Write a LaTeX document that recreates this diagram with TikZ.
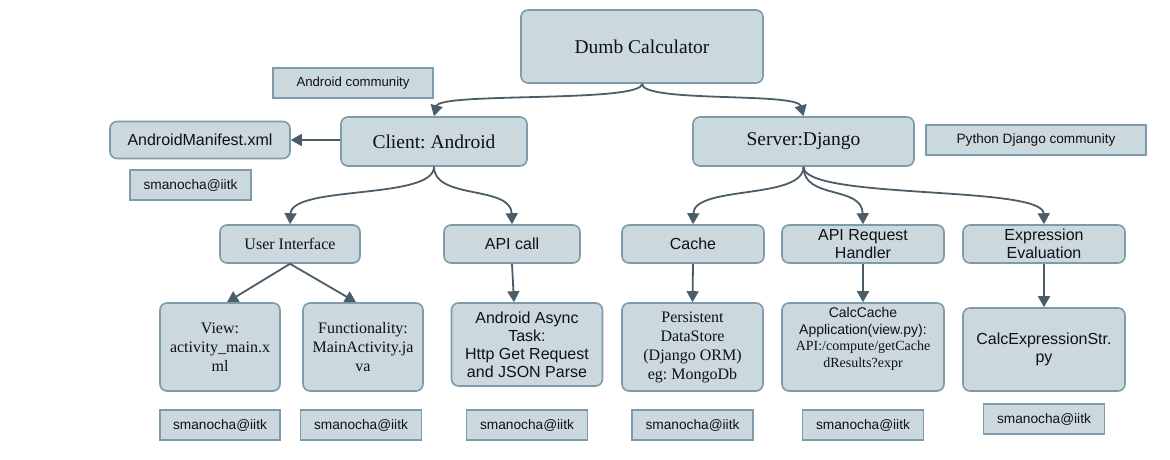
\documentclass[tikz,border=0pt]{standalone}
\usepackage{fontspec}
\setmainfont{Liberation Serif}
\newfontfamily\sansf{Liberation Sans}
\usetikzlibrary{arrows.meta}
\definecolor{boxfill}{HTML}{CBD8DE}
\definecolor{boxline}{HTML}{7D9BAA}
\definecolor{arr}{HTML}{4A5D68}
\definecolor{txt}{HTML}{111111}
\frenchspacing
\begin{document}
\begin{tikzpicture}[x=1pt,y=-1pt,
  base/.style={draw=boxline, fill=boxfill, line width=1.6pt, inner sep=0pt, align=center, text=txt},
  rbox/.style={base, rounded corners=7pt},
  tag/.style={base, minimum width=121pt, minimum height=30pt, font=\sansf\fontsize{13.7}{15}\selectfont},
  serL/.style={font=\fontsize{19.5}{23}\selectfont},
  serM/.style={font=\fontsize{16}{19}\selectfont},
  sanM/.style={font=\sansf\fontsize{16}{18}\selectfont},
  conn/.style={draw=arr, line width=1.8pt, -{Triangle[length=11pt,width=12pt]}}]
\useasboundingbox (0,0) rectangle (1170,460);

% top
\node[rbox, serL, minimum width=242pt, minimum height=73pt] (dumb) at (642,46.5) {Dumb Calculator};
\node[base, minimum width=160pt, minimum height=30pt, font=\sansf\fontsize{13.2}{15}\selectfont] (andc) at (353,83) {Android community};
\node[rbox, sanM, minimum width=180pt, minimum height=37pt] (manifest) at (200,140) {AndroidManifest.xml};
\node[rbox, serL, minimum width=186pt, minimum height=49pt] (client) at (434,141.5) {Client: Android};
\node[tag] (sm1) at (190.5,185) {smanocha@iitk};
\node[rbox, serL, minimum width=221pt, minimum height=49pt] (server) at (803.5,141.5) {Server:Django};
\node[base, minimum width=220pt, minimum height=30pt, font=\sansf\fontsize{13.6}{15}\selectfont] (pydj) at (1036,140) {Python Django community};

% middle row
\node[rbox, serM, minimum width=140pt, minimum height=38pt] (ui) at (290,244) {User Interface};
\node[rbox, sanM, minimum width=136pt, minimum height=38pt] (apicall) at (512,244) {API call};
\node[rbox, sanM, minimum width=142pt, minimum height=38pt] (cache) at (693,244) {Cache};
\node[rbox, sanM, minimum width=162pt, minimum height=38pt] (apireq) at (863,244) {API Request\\Handler};
\node[rbox, sanM, minimum width=162pt, minimum height=38pt] (expr) at (1044,244) {Expression\\Evaluation};

% bottom row
\node[rbox, serM, minimum width=120pt, minimum height=88pt] (view) at (220,347) {View:\\activity\_main.x\\ml};
\node[rbox, serM, minimum width=120pt, minimum height=88pt] (func) at (363,347) {Functionality:\\MainActivity.ja\\va};
\node[rbox, sanM, minimum width=151pt, minimum height=83pt] (async) at (527,344.5) {Android Async\\Task:\\Http Get Request\\and JSON Parse};
\node[rbox, serM, minimum width=141pt, minimum height=88pt] (persist) at (692.5,347) {Persistent\\DataStore\\(Django ORM)\\eg: MongoDb};
\node[rbox, minimum width=162pt, minimum height=88pt] (calccache) at (863,347) {};
\node[align=center, inner sep=0pt, text=txt, font=\fontsize{14}{16.7}\selectfont] (calccachetxt) at (863,339) {{\sansf CalcCache}\\{\sansf Application(view.py):}\\API:/compute/getCache\\dResults?expr};
\node[rbox, sanM, minimum width=162pt, minimum height=83pt] (calcexpr) at (1044,349.5) {CalcExpressionStr.\\py};

% tags
\node[tag, minimum width=120pt] (sm2) at (220,425) {smanocha@iitk};
\node[tag] (sm3) at (361,425) {smanocha@iitk};
\node[tag] (sm4) at (527,425) {smanocha@iitk};
\node[tag] (sm5) at (692.5,425) {smanocha@iitk};
\node[tag] (sm6) at (863,425) {smanocha@iitk};
\node[tag] (sm7) at (1044,419) {smanocha@iitk};

% connectors
\draw[conn] (dumb.south) .. controls (642,103) and (440,92) .. (client.north);
\draw[conn] (dumb.south) .. controls (642,103) and (797,92) .. (server.north);
\draw[conn] (client.west |- manifest.east) -- (manifest.east);
\draw[conn] (client.south) .. controls (434,200) and (292,185) .. (ui.north);
\draw[conn] (client.south) .. controls (434,200) and (511,185) .. (apicall.north);
\draw[conn] (server.south) .. controls (803.5,200) and (694,185) .. (cache.north);
\draw[conn] (server.south) .. controls (803.5,200) and (862,185) .. (apireq.north);
\draw[conn] (server.south) .. controls (803.5,200) and (1043,185) .. (expr.north);
\draw[conn] (ui.south) -- ([xshift=7pt]view.north);
\draw[conn] (ui.south) -- ([xshift=-7pt]func.north);
\draw[conn] (apicall.south) -- ([xshift=-13pt]async.north);
\draw[conn] (cache.south) -- (persist.north);
\draw[conn] (apireq.south) -- (calccache.north);
\draw[conn] (expr.south) -- (calcexpr.north);
\end{tikzpicture}
\end{document}
